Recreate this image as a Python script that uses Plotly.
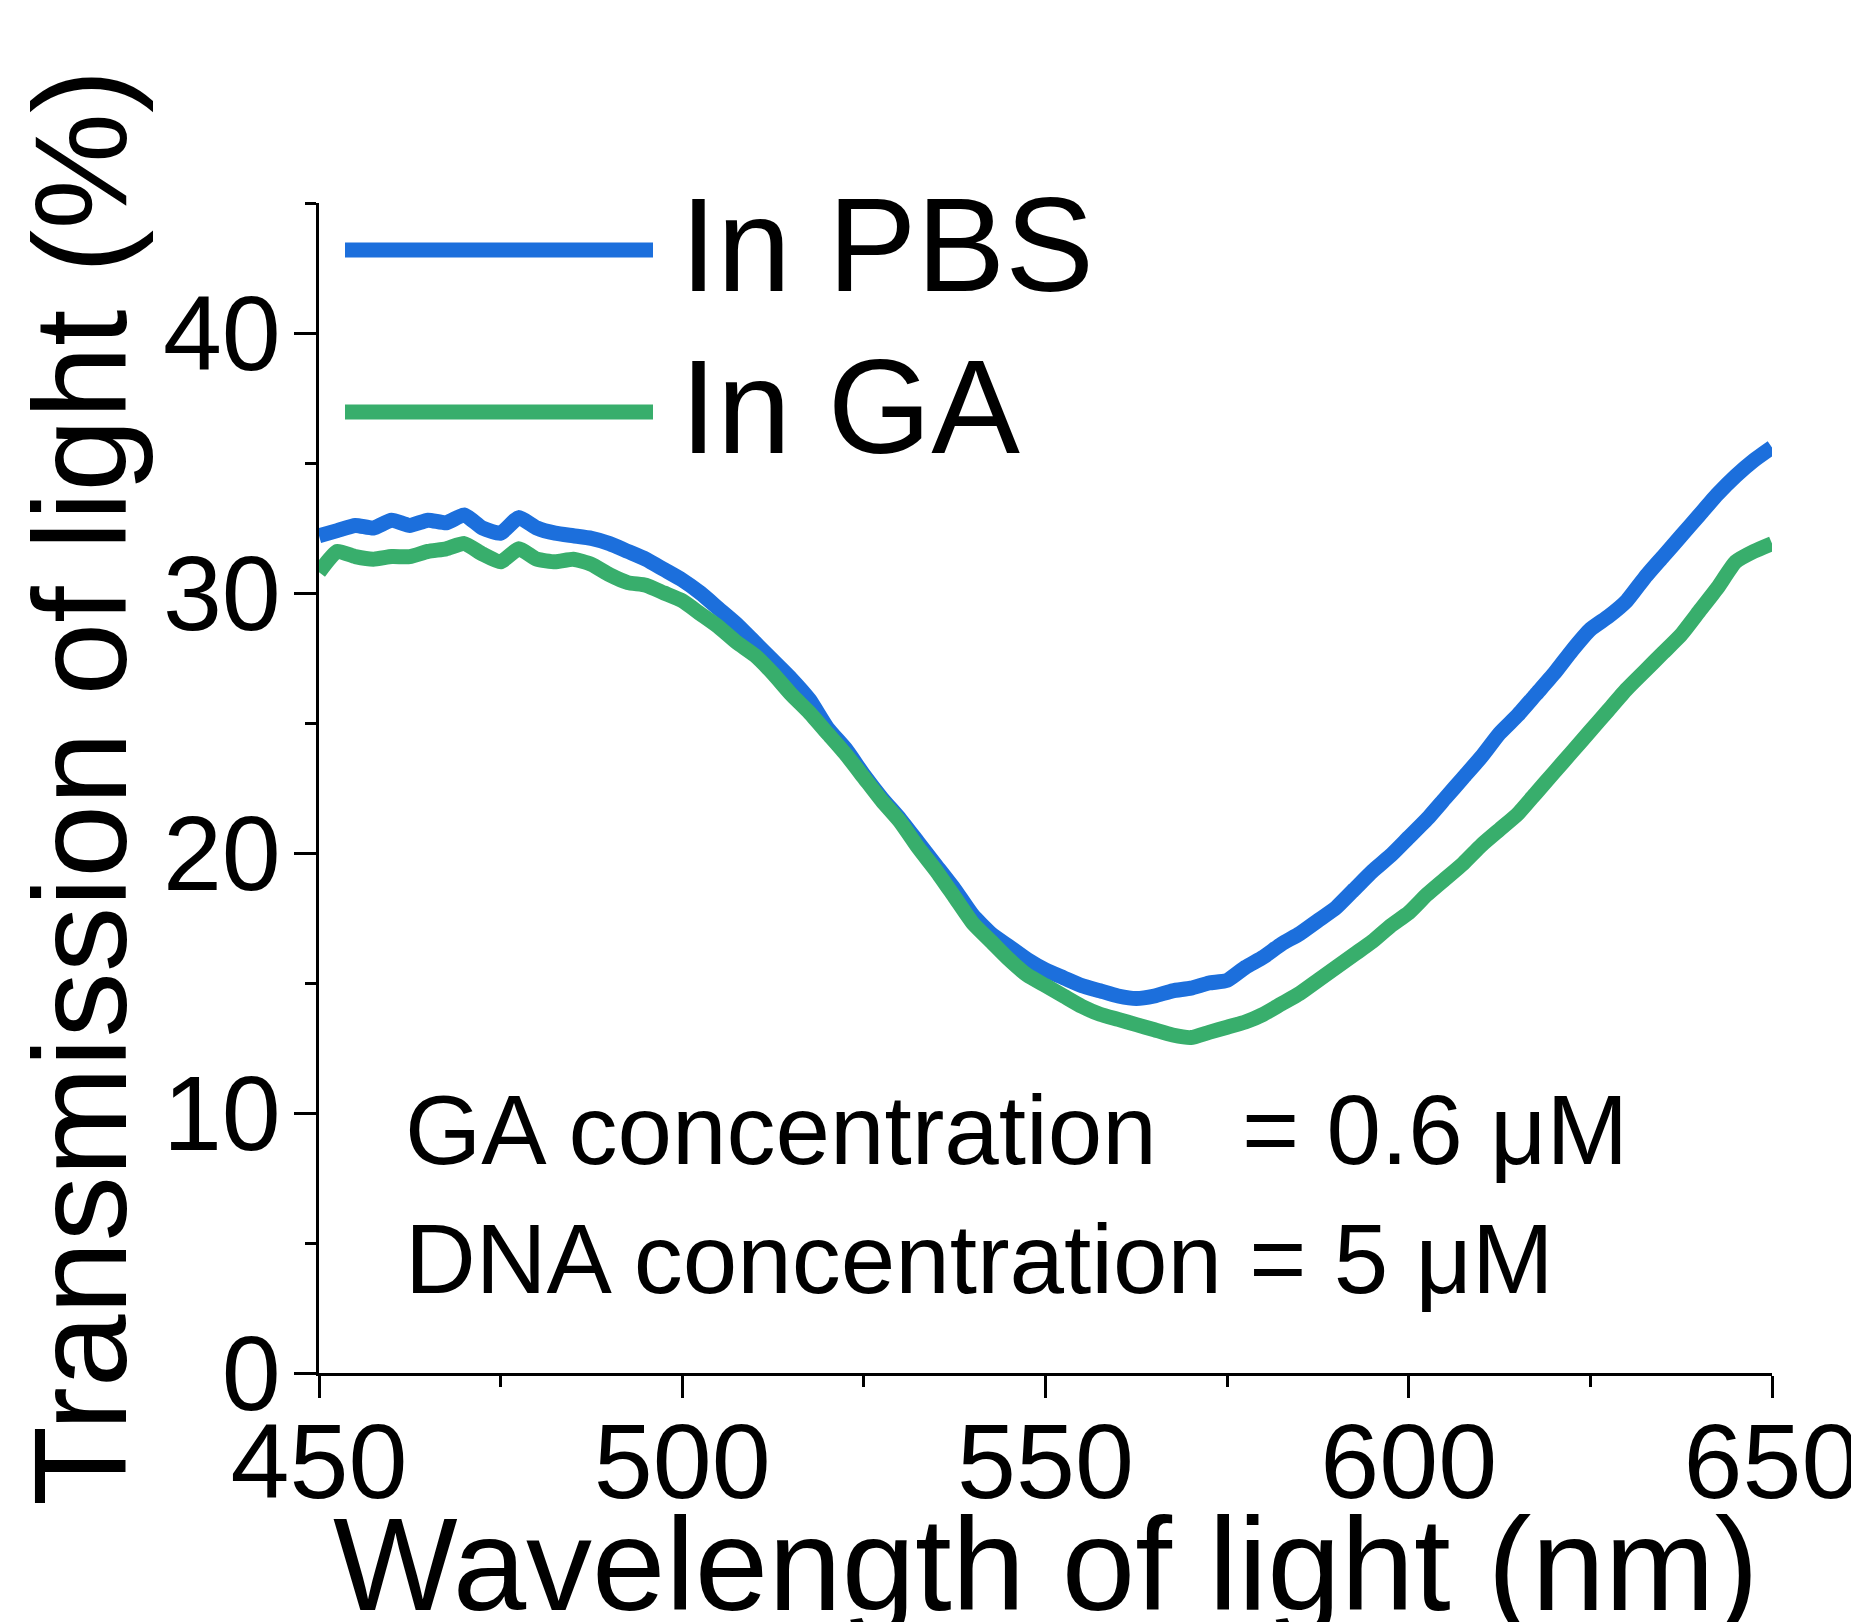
import plotly.graph_objects as go

# ---------------- data ----------------
wavelength_nm = [450 + 2.5 * i for i in range(81)]

transmission_pbs = [
    32.2, 32.4, 32.6, 32.5, 32.8, 32.6, 32.8, 32.7, 33.0, 32.5,
    32.3, 32.9, 32.5, 32.3, 32.2, 32.1, 31.9, 31.6, 31.3, 30.9,
    30.5, 30.0, 29.4, 28.8, 28.1, 27.4, 26.7, 25.9, 24.8, 24.0,
    23.0, 22.1, 21.3, 20.4, 19.5, 18.6, 17.6, 16.9, 16.4, 15.9,
    15.5, 15.2, 14.9, 14.7, 14.5, 14.4, 14.5, 14.7, 14.8, 15.0,
    15.1, 15.6, 16.0, 16.5, 16.9, 17.4, 17.9, 18.6, 19.3, 19.9,
    20.6, 21.3, 22.1, 22.9, 23.7, 24.6, 25.3, 26.1, 26.9, 27.8,
    28.6, 29.1, 29.7, 30.6, 31.4, 32.2, 33.0, 33.8, 34.5, 35.1,
    35.6,
]

transmission_ga = [
    30.8, 31.6, 31.4, 31.3, 31.4, 31.4, 31.6, 31.7, 31.9, 31.5,
    31.2, 31.7, 31.3, 31.2, 31.3, 31.1, 30.7, 30.4, 30.3, 30.0,
    29.7, 29.2, 28.7, 28.1, 27.6, 26.9, 26.1, 25.4, 24.6, 23.8,
    22.9, 22.0, 21.2, 20.2, 19.3, 18.3, 17.3, 16.6, 15.9, 15.3,
    14.9, 14.5, 14.1, 13.8, 13.6, 13.4, 13.2, 13.0, 12.9, 13.1,
    13.3, 13.5, 13.8, 14.2, 14.6, 15.1, 15.6, 16.1, 16.6, 17.2,
    17.7, 18.4, 19.0, 19.6, 20.3, 20.9, 21.5, 22.3, 23.1, 23.9,
    24.7, 25.5, 26.3, 27.0, 27.7, 28.4, 29.3, 30.2, 31.2, 31.6,
    31.9,
]

series_names = ["In PBS", "In GA"]
series_colors = ["#1c6fdc", "#38ae6c"]

x_tickvals = [450, 500, 550, 600, 650]
y_tickvals = [0, 10, 20, 30, 40]

x_title = "Wavelength of light (nm)"
y_title = "Transmission of light (%)"
note_ga_label = "GA concentration"
note_ga_value = "= 0.6 \u03bcM"
note_dna = "DNA concentration = 5 \u03bcM"

# ---------------- layout geometry (page pixels) ----------------
OFF = 8                      # default body margin of the html page
W, H = 1859 - OFF, 1622 - OFF
PL, PR, PT, PB = 319, 1772, 203, 1373   # plot area in page pixels
ML, MT = PL - OFF, PT - OFF
PW, PH = PR - PL, PB - PT
MR, MB = W - ML - PW, H - MT - PH
FONT = "Liberation Sans, Arial, sans-serif"


def px_x(px):
    return (px - PL) / PW


def px_y(py):
    return (PB - py) / PH


fig = go.Figure()
for name, ys, col in zip(series_names, [transmission_pbs, transmission_ga], series_colors):
    fig.add_trace(go.Scatter(
        x=wavelength_nm, y=ys, mode="lines", name=name,
        line=dict(color=col, width=15, shape="spline", smoothing=0.5),
        showlegend=False,
    ))

# hand-drawn legend (long sample lines like the original)
legend_rows_y = [250, 412]
for name, col, ly in zip(series_names, series_colors, legend_rows_y):
    fig.add_shape(type="line", xref="paper", yref="paper",
                  x0=px_x(345), x1=px_x(653), y0=px_y(ly), y1=px_y(ly),
                  line=dict(color=col, width=15))
    fig.add_annotation(text=name, xref="paper", yref="paper",
                       x=px_x(678), y=px_y(ly - 5), xanchor="left", yanchor="middle",
                       showarrow=False, font=dict(family=FONT, size=133, color="black"))

note_font = dict(family=FONT, size=98, color="black")
fig.add_annotation(text=note_ga_label, xref="paper", yref="paper",
                   x=px_x(403), y=px_y(1130), xanchor="left", yanchor="middle",
                   showarrow=False, font=note_font)
fig.add_annotation(text=note_ga_value, xref="paper", yref="paper",
                   x=px_x(1240), y=px_y(1130), xanchor="left", yanchor="middle",
                   showarrow=False, font=note_font)
fig.add_annotation(text=note_dna, xref="paper", yref="paper",
                   x=px_x(403), y=px_y(1259), xanchor="left", yanchor="middle",
                   showarrow=False, font=note_font)

# axis titles
fig.add_annotation(text=x_title, xref="paper", yref="paper",
                   x=0.5, y=px_y(1564), xanchor="center", yanchor="middle",
                   showarrow=False, font=dict(family=FONT, size=132, color="black"))
fig.add_annotation(text=y_title, xref="paper", yref="paper",
                   x=px_x(80), y=0.5, xanchor="center", yanchor="middle", textangle=-90,
                   showarrow=False, font=dict(family=FONT, size=131, color="black"))

axis_common = dict(
    showline=True, linecolor="black", linewidth=3, mirror=False,
    showgrid=False, zeroline=False, automargin=False,
    ticks="outside", ticklen=22, tickwidth=3, tickcolor="black",
    ticklabeloverflow="allow",
)

fig.update_xaxes(range=[450, 650], tickvals=x_tickvals, **axis_common,
                 tickfont=dict(family=FONT, size=106, color="black"),
                 ticklabelstandoff=-27,
                 minor=dict(ticks="outside", ticklen=11, tickwidth=3, tickcolor="black", dtick=25))
fig.update_yaxes(range=[0, 45], tickvals=y_tickvals, **axis_common,
                 tickfont=dict(family=FONT, size=106, color="black"),
                 ticklabelstandoff=-8,
                 minor=dict(ticks="outside", ticklen=11, tickwidth=3, tickcolor="black", dtick=5))

fig.update_layout(
    width=W, height=H, autosize=False,
    margin=dict(l=ML, r=MR, t=MT, b=MB, pad=0),
    paper_bgcolor="white", plot_bgcolor="white",
    showlegend=False,
)

fig.write_html("out.html")
